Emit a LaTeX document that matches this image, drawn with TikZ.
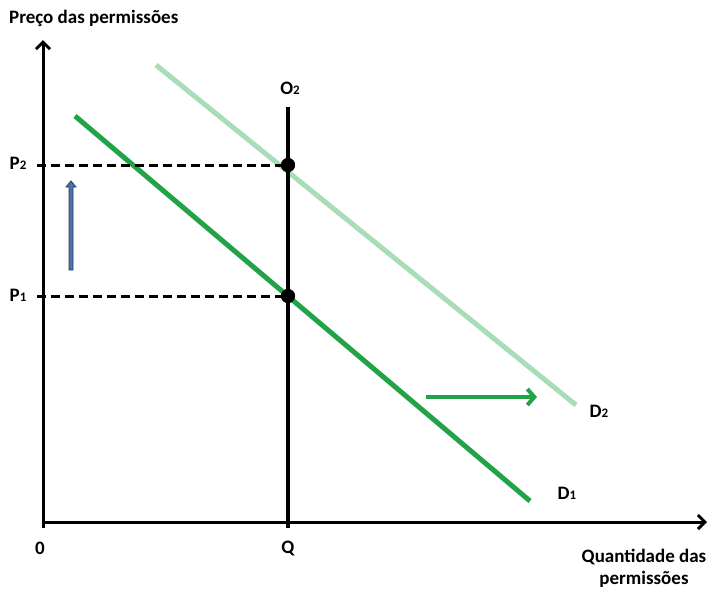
\documentclass[tikz,border=0pt]{standalone}
\usepackage{fontspec}
\setmainfont{Carlito}
\usetikzlibrary{arrows.meta}
\definecolor{dgreen}{HTML}{22A347}
\definecolor{lgreen}{HTML}{A8DDB7}
\definecolor{bluefill}{HTML}{4F72A8}
\definecolor{blueline}{HTML}{213A66}
\newcommand{\sub}[1]{{\fontsize{13}{13}\selectfont #1}}
\tikzset{
  lbl/.style={font=\bfseries\fontsize{19}{22}\selectfont, inner sep=0pt},
  axis/.style={line width=3pt, -{Straight Barb[length=7pt,width=14pt,line width=3pt]}},
  demand/.style={line width=5pt, dgreen},
  demand2/.style={line width=5pt, lgreen},
  guide/.style={line width=3pt, dash pattern=on 9pt off 5pt},
  dot/.style={circle, fill=black, minimum size=14pt, inner sep=0pt},
}
\begin{document}
\begin{tikzpicture}[x=1pt,y=-1pt]
\useasboundingbox (0,0) rectangle (708,590);
% coordinates
\coordinate (origin) at (43,522);
\coordinate (ytop) at (43,40);
\coordinate (ybot) at (43,528);
\coordinate (xend) at (707,522);
\coordinate (oTop) at (288,107);
\coordinate (oBot) at (288,528);
\coordinate (d1a) at (75,116);
\coordinate (d1b) at (530,501);
\coordinate (d2a) at (156,65);
\coordinate (d2b) at (576,405);
\coordinate (p2l) at (37,165);
\coordinate (p1l) at (37,296);
% demand curves
\draw[demand2] (d2a) -- (d2b);
\draw[demand] (d1a) -- (d1b);
% dashed guides
\node[dot] (e2) at (288,165) {};
\node[dot] (e1) at (288,296) {};
\draw[guide] (p2l) -- (e2.center);
\draw[guide] (p1l) -- (e1.center);
% supply line
\draw[line width=4pt] (oTop) -- (oBot);
% axes
\draw[axis] (ybot) -- (ytop);
\draw[axis] ([xshift=-1.5pt]origin) -- (xend);
% redraw dots on top
\node[dot] at (288,165) {};
\node[dot] at (288,296) {};
% blue arrow
\draw[blueline, fill=bluefill, line width=0.8pt, line join=miter]
  (69,270) -- (69,187) -- (66,187) -- (71,181) -- (76,187) -- (73,187) -- (73,270) -- cycle;
% green shift arrow
\coordinate (ga) at (426,397);
\coordinate (gb) at (537,397);
\draw[dgreen, line width=4.5pt, -{Straight Barb[length=7pt,width=16pt,line width=4pt]}] (ga) -- (gb);
% labels
\node[lbl, anchor=west] (ylab) at (9,18) {Preço das permissões};
\node[lbl] (o2) at (290,88) {O\sub{2}};
\node[lbl] (p2) at (18,163) {P\sub{2}};
\node[lbl] (p1) at (18,295) {P\sub{1}};
\node[lbl] (d2) at (599,411) {D\sub{2}};
\node[lbl] (d1) at (567,493) {D\sub{1}};
\node[lbl] (zero) at (40,548) {0};
\node[lbl] (q) at (288,548) {Q};
\node[lbl, align=center] (xlab) at (644,568) {Quantidade das\\permissões};
\end{tikzpicture}
\end{document}
